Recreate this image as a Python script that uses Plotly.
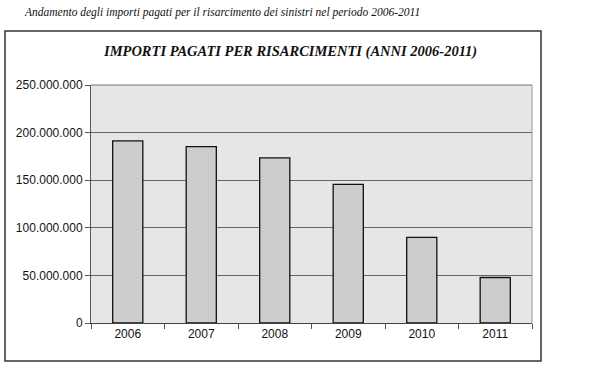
import plotly.graph_objects as go

years = ["2006", "2007", "2008", "2009", "2010", "2011"]
importi = [191300000, 185300000, 173400000, 145700000, 89900000, 47800000]
y_ticks = [0, 50000000, 100000000, 150000000, 200000000, 250000000]

L, R, T, B = 91, 616 - 532, 85, 370 - 323

fig = go.Figure()
fig.add_trace(go.Bar(
    x=years, y=importi, width=0.41,
    marker=dict(color="#cdcdcd", line=dict(color="#111111", width=1.3)),
    hoverinfo="skip",
))

fig.update_layout(
    width=616, height=370,
    margin=dict(l=L, r=R, t=T, b=B, autoexpand=False),
    paper_bgcolor="white", plot_bgcolor="#e6e6e6",
    separators=",.",
    showlegend=False,
    font=dict(family="Liberation Sans, Arial", size=12, color="#111111"),
)
fig.update_yaxes(
    range=[0, 250000000], tickvals=y_ticks, tickformat=",d",
    showgrid=True, gridcolor="#666666", gridwidth=1,
    showline=True, linecolor="#555555", linewidth=1,
    ticks="outside", ticklen=5, tickcolor="#555555",
    zeroline=False, tickfont=dict(size=12), automargin=False,
)
fig.update_xaxes(
    showline=True, linecolor="#444444", linewidth=1,
    ticks="outside", ticklen=5, tickcolor="#555555", tickson="boundaries",
    tickfont=dict(size=12), showgrid=False, automargin=False,
)
fig.add_shape(type="line", xref="paper", yref="paper", x0=0, x1=1, y0=1, y1=1,
              line=dict(color="#777777", width=1))
fig.add_shape(type="line", xref="paper", yref="paper", x0=1, x1=1, y0=0, y1=1,
              line=dict(color="#999999", width=1))
pw, ph = 616 - L - R, 370 - T - B
def px(x): return (x - L) / pw
def py(y): return (370 - B - y) / ph
fig.add_shape(type="rect", xref="paper", yref="paper",
              x0=px(5), x1=px(541), y0=py(361), y1=py(31),
              line=dict(color="#333333", width=1.5), fillcolor="rgba(0,0,0,0)", layer="below")

fig.add_annotation(text="<i>Andamento degli importi pagati per il risarcimento dei sinistri nel periodo 2006-2011</i>",
                   xref="paper", yref="paper", x=px(22), y=py(13), xanchor="left", yanchor="middle",
                   showarrow=False, font=dict(family="Liberation Serif, Times New Roman", size=11.5, color="#111111"))
fig.add_annotation(text="<b><i>IMPORTI PAGATI PER RISARCIMENTI (ANNI 2006-2011)</i></b>",
                   xref="paper", yref="paper", x=px(290), y=py(51), xanchor="center", yanchor="middle",
                   showarrow=False, font=dict(family="Liberation Serif, Times New Roman", size=14.5, color="#111111"))

fig.write_html("out.html", config={"displayModeBar": False},
               post_script="document.body.style.margin='0';document.body.style.padding='0';")
